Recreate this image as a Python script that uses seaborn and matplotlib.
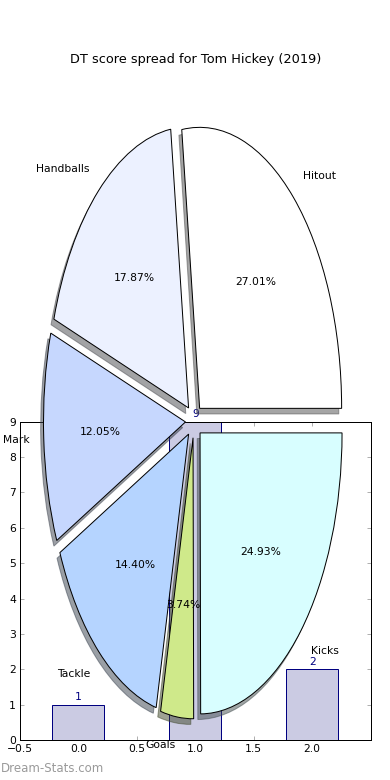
import matplotlib
matplotlib.use('Agg')
import matplotlib.pyplot as plt
import pandas as pd
import seaborn as sns

title = "DT score spread for Tom Hickey (2019)"
watermark = "Dream-Stats.com"

pie_labels = ['Hitout', 'Handballs', 'Mark', 'Tackle', 'Goals', 'Kicks']
pie_values = [27.01, 17.87, 12.05, 14.40, 3.74, 24.93]
pie_colors = ['#ffffff', '#ecf1ff', '#c6d7fe', '#b5d4ff', '#cfe98a', '#d8feff']

bar_x = [0, 1, 2]
bar_heights = [1, 9, 2]
bar_annot = ['1', '9', '2']

xtick_vals = [-0.5, 0.0, 0.5, 1.0, 1.5, 2.0]
xtick_labels = ['\u22120.5', '0.0', '0.5', '1.0', '1.5', '2.0']
ytick_vals = [0, 1, 2, 3, 4, 5, 6, 7, 8, 9]

sns.set_style('white')
plt.rcParams['font.family'] = ['DejaVu Sans']

FS = 10.8

fig = plt.figure(figsize=(390 / 72, 780 / 72), dpi=72)
fig.patch.set_facecolor('white')

# ---- bar axes (underneath) ----
axb = fig.add_axes([20 / 390, 40 / 780, 350.7 / 390, 318.3 / 780])
df = pd.DataFrame({'x': bar_x, 'h': bar_heights})
sns.barplot(data=df, x='x', y='h', native_scale=True, width=0.445,
            color='#cbcbe3', edgecolor='#000080', linewidth=1,
            saturation=1, errorbar=None, ax=axb)
axb.set_xlim(-0.5, 2.5)
axb.set_ylim(0, 9)
axb.set_xticks(xtick_vals)
axb.set_xticklabels(xtick_labels)
axb.set_yticks(ytick_vals)
axb.set_xlabel('')
axb.set_ylabel('')
axb.set_facecolor('white')
for s in axb.spines.values():
    s.set_visible(True)
    s.set_color('black')
    s.set_linewidth(1)
axb.tick_params(direction='in', length=4, width=1, color='#b0b0b0',
                top=True, right=True, bottom=True, left=True,
                labelsize=FS, labelcolor='black', pad=4)
for xv, hv, t in zip(bar_x, bar_heights, bar_annot):
    axb.annotate(t, (xv, hv), xytext=(0, 2.5), textcoords='offset points',
                 ha='center', va='bottom', color='#000080', fontsize=FS,
                 annotation_clip=False)

# ---- pie axes (on top, transparent) ----
axp = fig.add_axes([16.5 / 390, 7.75 / 780, 355 / 390, 702.5 / 780])
axp.set_facecolor('none')
wedges, texts, autotexts = axp.pie(
    pie_values, labels=pie_labels, colors=pie_colors,
    explode=[0.06] * len(pie_values), autopct='%.2f%%', shadow=True,
    startangle=0, wedgeprops=dict(edgecolor='black', linewidth=1),
    textprops=dict(fontsize=FS, color='black'))
axp.set_aspect('auto')
axp.set_xlim(-1.25, 1.25)
axp.set_ylim(-1.25, 1.25)
axp.axis('off')

fig.text(195.5 / 390, 1 - 60 / 780, title, ha='center', va='center',
         fontsize=12.9, color='black')
fig.text(0.002, 1 - 769 / 780, watermark, ha='left', va='center',
         fontsize=11.7, color='#9a9a9a')

fig.savefig('out.png', dpi=72, facecolor='white')
